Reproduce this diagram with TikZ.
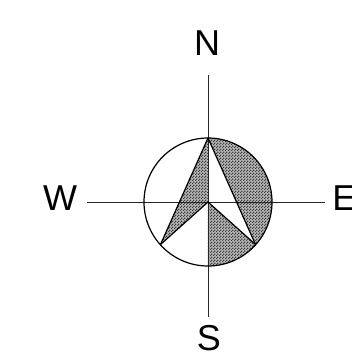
\documentclass[tikz,border=0pt]{standalone}
\usepackage{fontspec}
\setmainfont{Liberation Sans}
\usetikzlibrary{patterns}
\pgfdeclarepatternformonly{fine checks}{\pgfpointorigin}{\pgfpoint{2.25pt}{2.25pt}}{\pgfpoint{2.25pt}{2.25pt}}{
	\pgfpathrectangle{\pgfpointorigin}{\pgfpoint{1.125pt}{1.125pt}}
	\pgfpathrectangle{\pgfpoint{1.125pt}{1.125pt}}{\pgfpoint{1.125pt}{1.125pt}}
	\pgfusepath{fill}
}
\tikzset{
	shaded part/.style={preaction={fill=black!28}, pattern=fine checks, pattern color=black!75},
	compass letter/.style={font=\fontsize{27pt}{27pt}\selectfont, inner sep=0pt},
	axis line/.style={line width=0.75pt, black!85},
	rose line/.style={line width=0.9pt}
}

\begin{document}
\begin{tikzpicture}[x=0.75pt, y=-0.75pt]
	
	\useasboundingbox (0,0) rectangle (352,361);
	
	% Define points
	\coordinate (O) at (208,202);    % centre
	\coordinate (T) at (208,138);    % top of the arrow
	\coordinate (BL) at (160.5,244.5); % lower left tip
	\coordinate (BR) at (255.5,244.5); % lower right tip
	
	% Shaded parts
	\path[shaded part] (T) -- (BL) -- (O) -- cycle;
	\path[shaded part] (T) arc[start angle=-90, end angle=41.8, radius=64] -- cycle;
	\path[shaded part] (O) -- (BR) arc[start angle=41.8, end angle=90, radius=64] -- cycle;
	
	% Letters
	\node[compass letter] (N) at (207,43) {N};
	\node[compass letter] (W) at (60,198) {W};
	\node[compass letter] (E) at (344.5,198) {E};
	\node[compass letter] (S) at (209,338) {S};
	
	% Free ends of the axes
	\coordinate (Ntop) at (208,75);
	\coordinate (Sbot) at (208,317);
	\coordinate (Wend) at (87,202);
	\coordinate (Eend) at (324.5,202);
	
	\draw[axis line] (Ntop) -- (Sbot);
	\draw[axis line] (Wend) -- (Eend);
	
	% Circle and arrow
	\draw[rose line] (O) circle[radius=64];
	\draw[rose line, line join=round] (BL) -- (T) -- (BR);
	\draw[rose line, line join=round] (BL) -- (O) -- (BR);
	
\end{tikzpicture}
\end{document}
